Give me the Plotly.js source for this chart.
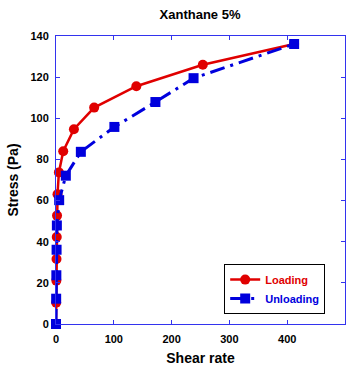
<!DOCTYPE html>
<html>
<head>
<meta charset="utf-8">
<script src="https://cdn.plot.ly/plotly-3.0.1.min.js"></script>
<style>html,body{margin:0;padding:0;background:#fff}#chart{width:354px;height:368px}</style>
</head>
<body>
<div id="chart"></div>
<script>
const loadingShear = [0, 0.3, 0.6, 0.9, 1.3, 1.8, 2.6, 5, 12.5, 31, 66, 139, 254, 412];
const loadingStress = [0, 10.4, 21.1, 31.6, 42.3, 52.7, 63.1, 73.7, 84.0, 94.7, 105.2, 115.6, 126.0, 136.1];
const unloadingShear = [0, 0.3, 0.6, 1.0, 1.5, 5.5, 17, 43, 101, 172, 238, 412];
const unloadingStress = [0, 12.3, 23.7, 36.1, 47.9, 60.2, 72.1, 83.7, 95.8, 107.9, 119.5, 136.1];
const xTicks = [0, 100, 200, 300, 400, 500];
const yTicks = [0, 20, 40, 60, 80, 100, 120, 140];

const font = 'Arial, "Liberation Sans", sans-serif';
const axisBlue = '#3333ee';

const traces = [
  {
    x: loadingShear, y: loadingStress, type: 'scatter', mode: 'lines+markers',
    name: '<b><span style="color:#e00000">Loading</span></b>',
    line: {color: '#e00000', width: 2.5},
    marker: {color: '#e00000', symbol: 'circle', size: 10},
    cliponaxis: false
  },
  {
    x: unloadingShear, y: unloadingStress, type: 'scatter', mode: 'lines+markers',
    name: '<b><span style="color:#0000dd">Unloading</span></b>',
    line: {color: '#0000dd', width: 3, dash: 'longdashdot'},
    marker: {color: '#0000dd', symbol: 'square', size: 10},
    cliponaxis: false
  }
];

const axisCommon = {
  showline: true, linecolor: axisBlue, linewidth: 1, mirror: 'ticks',
  ticks: 'inside', ticklen: 4, tickcolor: axisBlue, tickwidth: 1,
  showgrid: false, zeroline: false,
  tickfont: {family: font, size: 11, color: '#000', weight: 'bold'}
};

const layout = {
  width: 354, height: 368,
  margin: {l: 56, r: 9, t: 36, b: 44},
  paper_bgcolor: '#fff', plot_bgcolor: '#fff',
  showlegend: true,
  title: {text: '<b>Xanthane 5%</b>', font: {family: font, size: 13, color: '#000'}, x: 0.565, xanchor: 'center', y: 0.96, yanchor: 'middle'},
  xaxis: Object.assign({}, axisCommon, {
    range: [0, 500], tickvals: xTicks, ticktext: xTicks.map(String),
    ticklabelstandoff: 5,
    title: {text: '<b>Shear rate</b>', font: {family: font, size: 14, color: '#000'}, standoff: 8}
  }),
  yaxis: Object.assign({}, axisCommon, {
    range: [0, 140], tickvals: yTicks, ticktext: yTicks.map(String),
    ticklabelstandoff: 4,
    title: {text: '<b>Stress (Pa)</b>', font: {family: font, size: 14, color: '#000'}, standoff: 8}
  }),
  legend: {
    x: 0.582, y: 0.208, xanchor: 'left', yanchor: 'top',
    bgcolor: '#fff', bordercolor: '#000', borderwidth: 1,
    font: {family: font, size: 11, color: '#000'},
    itemwidth: 30, tracegroupgap: 0
  }
};

Plotly.newPlot('chart', traces, layout, {staticPlot: true, displayModeBar: false});
</script>
</body>
</html>
